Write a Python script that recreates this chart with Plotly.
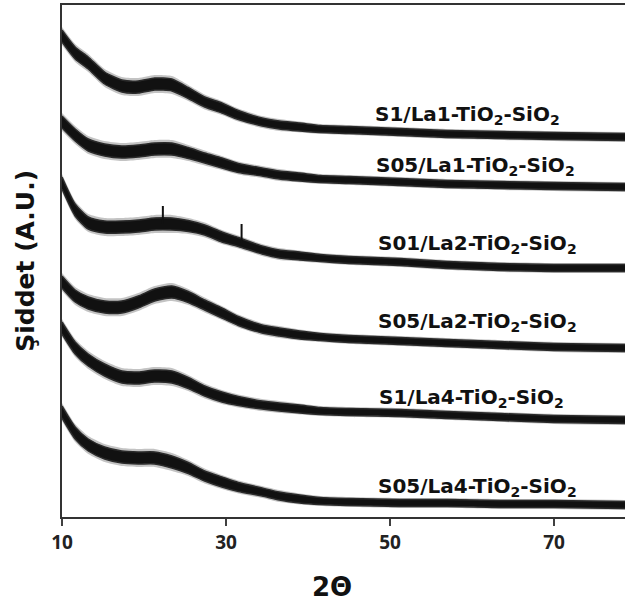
import plotly.graph_objects as go

# 2-theta sampling points shared by every pattern
two_theta = [10.0, 11.6, 13.2, 15.2, 17.3, 19.3, 21.3, 23.4, 25.4, 27.4,
             29.5, 31.5, 34.4, 36.5, 39.0, 41.5, 45.0, 51.2, 57.0, 63.4, 70.0, 78.7]

# stacked (offset) intensities, arbitrary units
s1_la1 = [481, 464, 454, 439, 431, 430, 433, 432, 424, 415, 409, 402, 395, 392, 390, 388, 387, 385, 383, 382, 381, 380]
s05_la1 = [395, 382, 372, 367, 365, 366, 368, 368, 364, 359, 354, 349, 345, 342, 340, 338, 337, 335, 333, 332, 331, 330]
s01_la2 = [334, 307, 294, 290, 290, 291, 293, 293, 291, 287, 280, 275, 267, 263, 261, 259, 257, 255, 252, 250, 249, 249]
s05_la2 = [235, 221, 214, 210, 210, 215, 222, 225, 220, 212, 204, 196, 188, 185, 182, 180, 178, 176, 174, 172, 170, 169]
s1_la4 = [189, 169, 157, 147, 140, 139, 141, 140, 134, 126, 120, 116, 112, 110, 108, 106, 105, 104, 102, 100, 98, 97]
s05_la4 = [105, 84, 72, 64, 60, 59, 59, 55, 49, 41, 35, 30, 25, 21, 18, 16, 15, 14, 14, 13, 13, 12]

# half-thickness of the dense noise core and of its sparser fringe
noise_half = [6, 6, 6, 6, 6, 6, 6, 6, 5.5, 5, 5, 4.5, 4, 4, 4, 3.5, 3.5, 3.5, 3.5, 3.5, 3.5, 3.5]
fringe_half = [9, 9, 9, 9, 9, 9, 9, 9, 8, 7.5, 7, 6.5, 6, 6, 5.5, 5, 5, 5, 5, 5, 5, 5]

# sharp reflections on S01/La2
peak_2theta = [22.3, 31.9]
peak_base = [293, 274]
peak_top = [311, 293]

series = [
    ("S1/La1-TiO<sub>2</sub>-SiO<sub>2</sub>", s1_la1, 59.5, 402),
    ("S05/La1-TiO<sub>2</sub>-SiO<sub>2</sub>", s05_la1, 60.4, 351),
    ("S01/La2-TiO<sub>2</sub>-SiO<sub>2</sub>", s01_la2, 60.7, 273),
    ("S05/La2-TiO<sub>2</sub>-SiO<sub>2</sub>", s05_la2, 60.7, 195),
    ("S1/La4-TiO<sub>2</sub>-SiO<sub>2</sub>", s1_la4, 60.0, 119),
    ("S05/La4-TiO<sub>2</sub>-SiO<sub>2</sub>", s05_la4, 60.7, 30),
]

ink = "#111111"
core_edge = dict(color="#2a2a2a", width=1.5, shape="spline", smoothing=0.6)
fringe_edge = dict(color="rgba(0,0,0,0)", width=0, shape="spline", smoothing=0.6)


def band(fig, vals, half, line, fill):
    lower = [v - h for v, h in zip(vals, half)]
    upper = [v + h for v, h in zip(vals, half)]
    fig.add_trace(go.Scatter(x=two_theta, y=lower, mode="lines", line=line,
                             showlegend=False, hoverinfo="skip"))
    fig.add_trace(go.Scatter(x=two_theta, y=upper, mode="lines", fill="tonexty",
                             fillcolor=fill, line=line, showlegend=False,
                             hoverinfo="skip"))


fig = go.Figure()
for name, vals, lx, ly in series:
    band(fig, vals, fringe_half, fringe_edge, "rgba(40,40,40,0.28)")
    band(fig, vals, noise_half, core_edge, ink)
    fig.add_annotation(x=lx, y=ly, text="<b>" + name + "</b>", showarrow=False,
                       xanchor="center", yanchor="middle",
                       font=dict(family="DejaVu Sans", size=20, color=ink))

for px, b, t in zip(peak_2theta, peak_base, peak_top):
    fig.add_trace(go.Scatter(x=[px, px], y=[b, t], mode="lines",
                             line=dict(color=ink, width=2),
                             showlegend=False, hoverinfo="skip"))

# axis titles
fig.add_annotation(xref="paper", yref="paper", x=0.4796, y=-0.137,
                   text="<b>2Θ</b>", showarrow=False,
                   xanchor="center", yanchor="middle",
                   font=dict(family="DejaVu Sans", size=26, color=ink))
fig.add_annotation(xref="paper", yref="paper", x=-0.066, y=0.5,
                   text="<b>Şiddet (A.U.)</b>", showarrow=False, textangle=-90,
                   xanchor="center", yanchor="middle",
                   font=dict(family="DejaVu Sans", size=25, color=ink))

fig.update_layout(
    width=625, height=603,
    margin=dict(l=62, r=0, t=5, b=86),
    paper_bgcolor="white", plot_bgcolor="white",
    xaxis=dict(range=[10, 78.66], tickvals=[10, 30, 50, 70],
               ticks="outside", ticklen=7, tickwidth=1.5, tickcolor="#404040",
               showline=True, linecolor="#333333", linewidth=2, mirror=True,
               showgrid=False, zeroline=False,
               tickfont=dict(family="Open Sans", size=19, color="#222222", weight="bold")),
    yaxis=dict(range=[0, 512], showticklabels=False, ticks="",
               showline=True, linecolor="#333333", linewidth=2,
               showgrid=False, zeroline=False),
)

fig.write_html("out.html")
